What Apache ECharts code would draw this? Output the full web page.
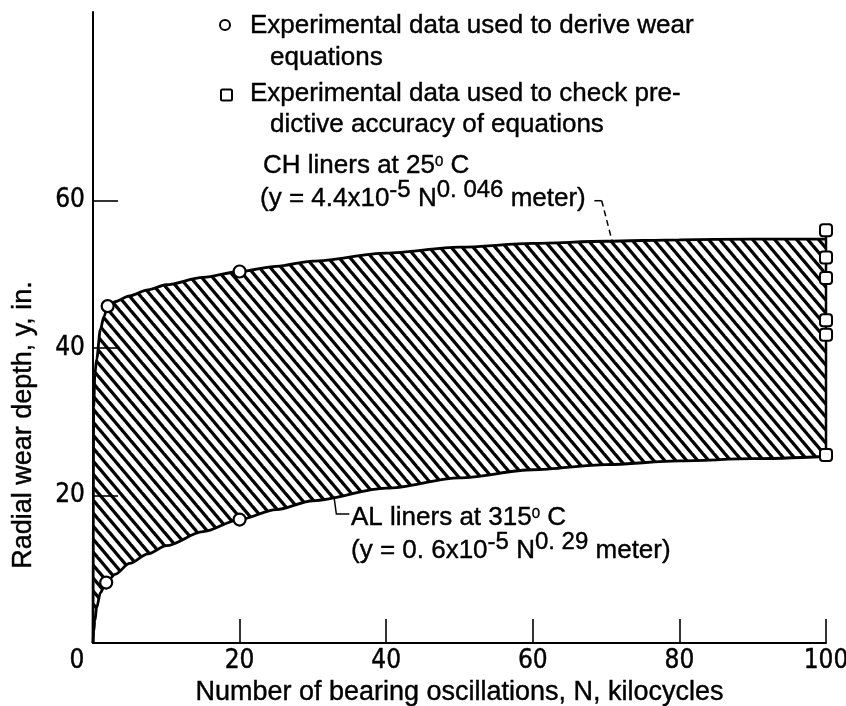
<!DOCTYPE html>
<html>
<head>
<meta charset="utf-8">
<script src="https://cdn.jsdelivr.net/npm/echarts@6/dist/echarts.min.js"></script>
<style>
  html, body { margin: 0; padding: 0; background: #fff; }
  #chart { width: 846px; height: 706px; }
</style>
</head>
<body>
<div id="chart"></div>
<script>
// Oscillation count N (kilocycles) at which both band edges are sampled
const cycles = [0, 0.1, 0.25, 0.5, 1, 1.5, 2, 3, 5, 7.5, 10, 15, 20, 25, 30, 40, 50, 60, 70, 80, 90, 100];
// CH liners at 25 C: upper edge of the wear band
const chWear = [0, 32, 36.5, 38.5, 42.5, 44.3, 45.7, 46.3, 47.1, 47.9, 48.6, 49.6, 50.4, 51.1, 51.8, 52.9, 53.7, 54.2, 54.5, 54.7, 54.8, 54.8];
// AL liners at 315 C: lower edge of the wear band
const alWear = [0, 1.6, 3.0, 4.8, 6.8, 7.6, 8.4, 9.3, 10.8, 12.1, 13.2, 15.1, 16.75, 18.1, 19.3, 21.0, 22.4, 23.5, 24.2, 24.7, 25.0, 25.3];
// Experimental points used to derive the wear equations
const deriveN = [2, 20, 1.8, 20];
const deriveWear = [45.7, 50.4, 8.2, 16.75];
// Experimental points used to check the predictive accuracy
const checkN = [100, 100, 100, 100, 100, 100];
const checkWear = [25.5, 41.8, 43.8, 49.5, 52.3, 56.0];
// Tick values
const xTicks = [0, 20, 40, 60, 80, 100];
const yTicks = [20, 40, 60];

const BODY = '"Liberation Sans", Arial, sans-serif';
const NARROW = '"Liberation Sans Narrow", "DejaVu Sans Condensed", "Liberation Sans", sans-serif';
// slight outline to give the lettering a heavier stroke
const INK = { textBorderColor: '#000', textBorderWidth: 0.4 };
const GINK = { stroke: '#000', lineWidth: 0.4 };

// Diagonal hatch tile for the band between the two liner curves
function hatchTile() {
  const w = 11, h = 13;
  const c = document.createElement('canvas');
  c.width = w; c.height = h;
  const g = c.getContext('2d');
  g.fillStyle = '#fff';
  g.fillRect(0, 0, w, h);
  g.strokeStyle = '#000';
  g.lineWidth = 3.3;
  for (let k = -2; k <= 2; k++) {
    g.beginPath();
    g.moveTo(k * w - w, -h);
    g.lineTo(k * w + 2 * w, 2 * h);
    g.stroke();
  }
  return c;
}

const chart = echarts.init(document.getElementById('chart'), null, { renderer: 'canvas' });

const axisText = Object.assign({ color: '#000', fontFamily: NARROW, fontSize: 26 }, INK);
const titleText = Object.assign({ color: '#000', fontFamily: BODY, fontSize: 27 }, INK);

chart.setOption({
  animation: false,
  backgroundColor: '#fff',
  grid: { left: 93, right: 20, top: 12, bottom: 63, outerBoundsMode: 'none', containLabel: false },
  xAxis: {
    type: 'value', min: 0, max: 100, interval: 20, z: 5,
    axisLine: { show: true, onZero: false, lineStyle: { color: '#000', width: 2 } },
    axisTick: { show: true, inside: true, length: 24, customValues: [20, 40, 60, 80, 100],
      lineStyle: { color: '#000', width: 1.6 } },
    axisLabel: Object.assign({
      customValues: xTicks, margin: 5,
      formatter: v => (v === 0 ? '{z|0}' : String(v)),
      rich: { z: Object.assign({ fontFamily: NARROW, fontSize: 26, color: '#000', padding: [0, 32, 0, 0] }, INK) }
    }, axisText),
    splitLine: { show: false },
    name: 'Number of bearing oscillations, N, kilocycles',
    nameLocation: 'middle', nameGap: 27,
    nameTextStyle: titleText
  },
  yAxis: {
    type: 'value', min: 0, max: 85.6, z: 5,
    axisLine: { show: true, onZero: false, lineStyle: { color: '#000', width: 2 } },
    axisTick: { show: true, inside: true, length: 25, customValues: yTicks,
      lineStyle: { color: '#000', width: 1.6 } },
    axisLabel: Object.assign({ customValues: yTicks, margin: 8 }, axisText),
    splitLine: { show: false },
    name: 'Radial wear depth, y, in.',
    nameLocation: 'middle', nameGap: 56,
    nameTextStyle: Object.assign({ padding: [0, 195, 0, 0] }, titleText)
  },
  series: [
    {
      name: 'CH liners at 25 C', type: 'line', z: 2,
      data: cycles.map((n, i) => [n, chWear[i]]),
      smooth: 0.3, smoothMonotone: 'x', symbol: 'none',
      lineStyle: { color: '#000', width: 2.8 },
      areaStyle: { color: { image: hatchTile(), repeat: 'repeat' }, opacity: 1, origin: 'start' }
    },
    {
      name: 'AL liners at 315 C', type: 'line', z: 2,
      data: cycles.map((n, i) => [n, alWear[i]]),
      smooth: 0.3, smoothMonotone: 'x', symbol: 'none',
      lineStyle: { color: '#000', width: 2.8 },
      areaStyle: { color: '#fff', opacity: 1, origin: 'start' }
    },
    {
      name: 'Check data', type: 'line', z: 6,
      data: checkN.map((n, i) => [n, checkWear[i]]),
      symbol: 'roundRect', symbolSize: 12, showSymbol: true,
      itemStyle: { color: '#fff', borderColor: '#000', borderWidth: 2, opacity: 1 },
      lineStyle: { color: '#000', width: 2.5 }
    },
    {
      name: 'Derivation data', type: 'scatter', z: 7,
      data: deriveN.map((n, i) => [n, deriveWear[i]]),
      symbol: 'circle', symbolSize: 12,
      itemStyle: { color: '#fff', borderColor: '#000', borderWidth: 2.2, opacity: 1 }
    }
  ]
});

// Leader lines from the curve labels to their curves (data coordinates)
const chLeaderSolid = [[68.4, 60.0], [69.4, 60.0]];
const chLeaderDash = [[69.4, 60.0], [70.8, 54.6]];
const alLeader = [[32.9, 19.7], [33.2, 17.5], [34.97, 17.5]];
const px = pts => pts.map(p => chart.convertToPixel({ gridIndex: 0 }, p));

const rich = {
  n: Object.assign({ fontFamily: BODY, fontSize: 26, lineHeight: 28, verticalAlign: 'bottom', fill: '#000' }, GINK),
  s: Object.assign({ fontFamily: BODY, fontSize: 24, lineHeight: 28, verticalAlign: 'bottom', fill: '#000', padding: [0, 0, 10, 0] }, GINK),
  d: Object.assign({ fontFamily: BODY, fontSize: 15, lineHeight: 28, verticalAlign: 'bottom', fill: '#000', padding: [0, 0, 10, 0] }, GINK)
};

function plain(x, y, text) {
  return { type: 'text', x, y, z: 20,
    style: Object.assign({ text, fill: '#000', fontFamily: BODY, fontSize: 26, align: 'left', verticalAlign: 'middle' }, GINK) };
}
function formula(x, y, text) {
  return { type: 'text', x, y, z: 20,
    style: Object.assign({ text, fill: '#000', fontFamily: BODY, fontSize: 26, align: 'left', verticalAlign: 'bottom', rich }, GINK) };
}

chart.setOption({
  graphic: [
    { type: 'circle', z: 20, shape: { cx: 225, cy: 25, r: 5 }, style: { fill: '#fff', stroke: '#000', lineWidth: 2 } },
    { type: 'rect', z: 20, shape: { x: 221, y: 89.5, width: 11, height: 11, r: 1.5 }, style: { fill: '#fff', stroke: '#000', lineWidth: 2 } },
    plain(250, 26, 'Experimental data used to derive wear'),
    plain(270, 58, 'equations'),
    plain(250, 94, 'Experimental data used to check pre-'),
    plain(270, 125, 'dictive accuracy of equations'),
    formula(263, 179, '{n|CH liners at 25}{d|0}{n| C}'),
    formula(260, 212, '{n|(y = 4.4x10}{s|-5}{n| N}{s|0. 046}{n| meter)}'),
    formula(351, 531, '{n|AL liners at 315}{d|0}{n| C}'),
    formula(351, 564, '{n|(y = 0. 6x10}{s|-5}{n| N}{s|0. 29}{n| meter)}'),
    { type: 'polyline', z: 20, shape: { points: px(chLeaderSolid) }, style: { stroke: '#000', lineWidth: 1.5, fill: null } },
    { type: 'polyline', z: 20, shape: { points: px(chLeaderDash) }, style: { stroke: '#000', lineWidth: 1.5, fill: null, lineDash: [6, 4] } },
    { type: 'polyline', z: 20, shape: { points: px(alLeader) }, style: { stroke: '#000', lineWidth: 1.5, fill: null } }
  ]
});
</script>
</body>
</html>
